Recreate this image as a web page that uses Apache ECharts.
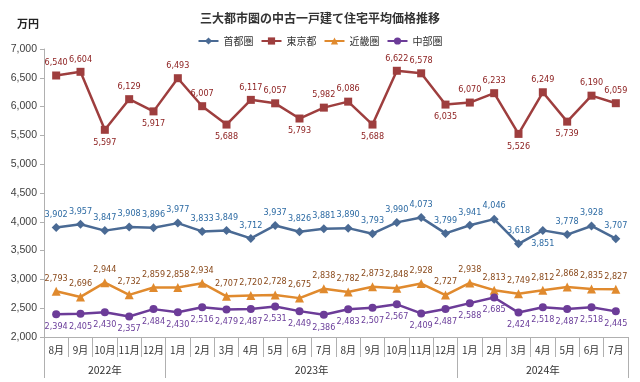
<!DOCTYPE html>
<html><head><meta charset="utf-8">
<script src="https://cdn.jsdelivr.net/npm/echarts@6/dist/echarts.min.js"></script>
<style>html,body{margin:0;padding:0;background:#fff}#c{width:640px;height:382px}</style>
</head><body><div id="c"></div>
<script>
const months = ['8月','9月','10月','11月','12月','1月','2月','3月','4月','5月','6月','7月','8月','9月','10月','11月','12月','1月','2月','3月','4月','5月','6月','7月'];
const years = ['2022年','2023年','2024年'];
const yearSpans = [5, 12, 7];
const shuto = [3902,3957,3847,3908,3896,3977,3833,3849,3712,3937,3826,3881,3890,3793,3990,4073,3799,3941,4046,3618,3851,3778,3928,3707];
const tokyo = [6540,6604,5597,6129,5917,6493,6007,5688,6117,6057,5793,5982,6086,5688,6622,6578,6035,6070,6233,5526,6249,5739,6190,6059];
const kinki = [2793,2696,2944,2732,2859,2858,2934,2707,2720,2728,2675,2838,2782,2873,2848,2928,2727,2938,2813,2749,2812,2868,2835,2827];
const chubu = [2394,2405,2430,2357,2484,2430,2516,2479,2487,2531,2449,2386,2483,2507,2567,2409,2487,2588,2685,2424,2518,2487,2518,2445];
const tokyoBelow = [2,4,7,10,13,16,19,21];
const shutoBelow = [20];

const fmt = v => String(v).replace(/\B(?=(\d{3})+(?!\d))/g, ',');
const JP = '"Noto Sans CJK JP", sans-serif';
const NUM = '"DejaVu Sans Condensed", "Liberation Sans Narrow", "Liberation Sans", sans-serif';

const yb = [0]; yearSpans.forEach(s => yb.push(yb[yb.length-1] + s));
const yc = yearSpans.map((s,i) => yb[i] + s/2);

function mk(arr, below) {
  return arr.map((v,i) => below.includes(i) ? {value:v, label:{position:'bottom'}} : v);
}
function lbl(color, pos) {
  return {show:true, position:pos, distance:4, color:color, fontSize:9, fontFamily:NUM, formatter:p => fmt(p.value)};
}

const chart = echarts.init(document.getElementById('c'), null, {renderer:'canvas'});
chart.setOption({
  animation:false,
  title:[
    {text:'三大都市圏の中古一戸建て住宅平均価格推移', left:'center', top:7, textStyle:{fontFamily:JP, fontSize:12, fontWeight:'bold', color:'#333'}},
    {text:'万円', left:12, top:13, textStyle:{fontFamily:JP, fontSize:11, fontWeight:'bold', color:'#222'}}
  ],
  legend:{top:31, left:'center', itemWidth:20, itemHeight:9, itemGap:7, textStyle:{fontFamily:JP, fontSize:10, color:'#333'}},
  grid:{left:44, right:12, top:49, bottom:45},
  xAxis:[
    {type:'category', data:months, boundaryGap:true, position:'bottom',
     axisLine:{lineStyle:{color:'#b0b0b0'}},
     axisTick:{show:true, interval:0, length:20, lineStyle:{color:'#b0b0b0'}},
     axisLabel:{interval:0, margin:8, fontFamily:JP, fontSize:10, color:'#333'}},
    {type:'value', min:0, max:24, position:'bottom', offset:0,
     axisLine:{show:false}, splitLine:{show:false},
     axisTick:{show:true, customValues:yb, length:41, lineStyle:{color:'#b0b0b0'}},
     axisLabel:{customValues:yc, margin:28, fontFamily:JP, fontSize:10.5, color:'#333',
       formatter:v => { const i = yc.indexOf(v); return i >= 0 ? years[i] : ''; }}}
  ],
  yAxis:{type:'value', min:2000, max:7000, interval:500,
    axisLine:{show:true, lineStyle:{color:'#b0b0b0'}},
    axisTick:{show:true, length:4, lineStyle:{color:'#b0b0b0'}},
    splitLine:{show:false},
    axisLabel:{fontFamily:'"Liberation Sans", sans-serif', fontSize:10.5, color:'#404040', margin:7, formatter:v => fmt(v)}},
  series:[
    {name:'首都圏', type:'line', data:mk(shuto, shutoBelow), symbol:'diamond', symbolSize:9,
     itemStyle:{color:'#4A6A94'}, lineStyle:{width:2.5, color:'#4A6A94'}, label:lbl('#2C6AA3','top')},
    {name:'東京都', type:'line', data:mk(tokyo, tokyoBelow), symbol:'rect', symbolSize:8,
     itemStyle:{color:'#9E3E3E'}, lineStyle:{width:2.5, color:'#9E3E3E'}, label:lbl('#8E2222','top')},
    {name:'近畿圏', type:'line', data:kinki, symbol:'triangle', symbolSize:9,
     itemStyle:{color:'#E08A2E'}, lineStyle:{width:2.5, color:'#E08A2E'}, label:lbl('#8A4A1C','top')},
    {name:'中部圏', type:'line', data:chubu, symbol:'circle', symbolSize:8,
     itemStyle:{color:'#6C3C98'}, lineStyle:{width:2.5, color:'#6C3C98'}, label:lbl('#6A3D9A','bottom')}
  ]
});
</script></body></html>
